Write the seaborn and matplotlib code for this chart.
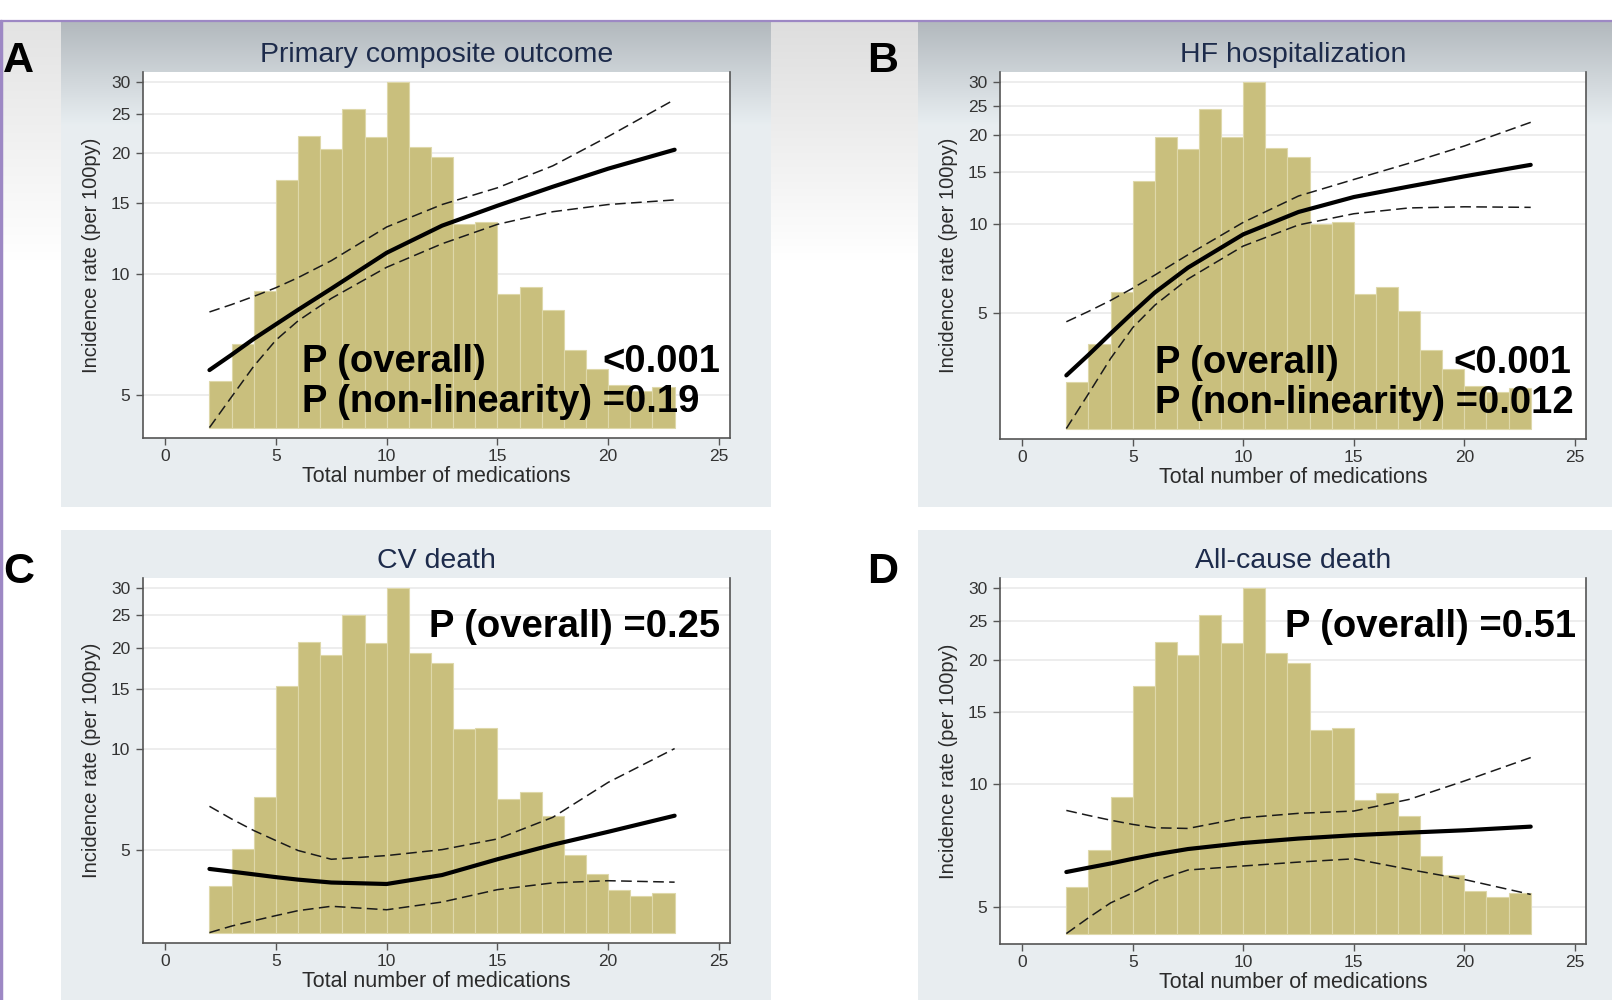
import numpy as np
import matplotlib
matplotlib.use("Agg")
import matplotlib.pyplot as plt
import matplotlib.ticker as mticker
import seaborn as sns

# share of patients by total number of medications (%), one bar per count 2..22
meds = list(range(2, 23))
pct_patients = [1.28, 2.30, 3.74, 6.78, 7.99, 7.65, 8.73, 7.97, 9.47, 7.69, 7.42,
                5.59, 5.64, 3.67, 3.86, 3.22, 2.14, 1.62, 1.16, 1.01, 1.10]

# spline estimates, incidence rate per 100 patient-years
x_fit = [2, 3, 4, 5, 6, 7.5, 10, 12.5, 15, 17.5, 20, 23]

primary_est = [5.77, 6.3, 6.9, 7.5, 8.15, 9.2, 11.3, 13.2, 14.8, 16.5, 18.3, 20.4]
primary_upper = [8.05, 8.4, 8.8, 9.25, 9.8, 10.8, 13.1, 14.9, 16.4, 18.6, 22.0, 27.2]
primary_lower = [4.15, 4.95, 5.9, 6.85, 7.65, 8.7, 10.4, 11.9, 13.3, 14.3, 14.9, 15.3]

hf_est = [3.07, 3.6, 4.25, 5.0, 5.85, 7.1, 9.2, 10.95, 12.3, 13.35, 14.45, 15.8]
hf_upper = [4.66, 5.05, 5.5, 6.05, 6.7, 7.85, 10.1, 12.4, 14.1, 16.0, 18.3, 22.0]
hf_lower = [2.03, 2.66, 3.5, 4.45, 5.3, 6.5, 8.4, 9.9, 10.8, 11.3, 11.4, 11.35]

cv_est = [4.38, 4.3, 4.22, 4.14, 4.07, 3.99, 3.95, 4.2, 4.68, 5.17, 5.65, 6.31]
cv_upper = [6.73, 6.17, 5.7, 5.32, 4.97, 4.68, 4.8, 5.0, 5.38, 6.24, 7.93, 10.0]
cv_lower = [2.83, 2.96, 3.07, 3.18, 3.29, 3.39, 3.31, 3.49, 3.8, 3.98, 4.04, 4.0]

acd_est = [6.08, 6.23, 6.38, 6.55, 6.71, 6.92, 7.16, 7.34, 7.48, 7.59, 7.69, 7.85]
acd_upper = [8.6, 8.36, 8.14, 7.95, 7.8, 7.77, 8.25, 8.46, 8.57, 9.15, 10.15, 11.58]
acd_lower = [4.3, 4.7, 5.11, 5.41, 5.78, 6.15, 6.29, 6.43, 6.55, 6.17, 5.83, 5.36]

y_ticks = [5, 10, 15, 20, 25, 30]
x_ticks = [0, 5, 10, 15, 20, 25]

titles = ["Primary composite outcome", "HF hospitalization", "CV death", "All-cause death"]
letters = ["A", "B", "C", "D"]
p_texts = [
    [(6.2, 0.180, "P (overall)", "left"), (25.05, 0.180, "<0.001", "right"),
     (6.2, 0.071, "P (non-linearity) =0.19", "left")],
    [(6.0, 0.180, "P (overall)", "left"), (24.85, 0.180, "<0.001", "right"),
     (6.0, 0.071, "P (non-linearity) =0.012", "left")],
    [(25.05, 0.838, "P (overall) =0.25", "right")],
    [(25.05, 0.840, "P (overall) =0.51", "right")],
]

BAR = "#c9bf7d"
BAR_EDGE = "#ded8aa"
PANEL = (0.910, 0.933, 0.945)
PANEL_TOP = (0.70, 0.725, 0.745)
PURPLE = "#9d88c4"

sns.set_theme(style="white")
plt.rcParams["font.family"] = ["Liberation Sans", "DejaVu Sans"]

W, H = 1612, 1000
fig = plt.figure(figsize=(16.12, 10), dpi=100)
fig.patch.set_facecolor("white")

# background layer in pixel coordinates
bg = fig.add_axes([0, 0, 1, 1], zorder=-10)
bg.axis("off")


def fade(x0, x1, y0, y1, c_top, c_bot, y_end):
    ys = np.arange(y0, y1)
    t = np.clip((ys - y0) / (y_end - y0), 0, 1)[:, None]
    rgb = (1 - t) * np.array(c_top) + t * np.array(c_bot)
    bg.imshow(rgb[:, None, :], extent=(x0, x1, y1, y0), aspect="auto",
              interpolation="bilinear")


fade(2, 61, 22, 507, (0.89, 0.89, 0.89), (1, 1, 1), 260)
fade(771, 918, 22, 507, (0.87, 0.87, 0.87), (1, 1, 1), 260)
fade(61, 771, 22, 507, PANEL_TOP, PANEL, 125)
fade(918, W, 22, 507, PANEL_TOP, PANEL, 125)
fade(61, 771, 530, H, PANEL, PANEL, 600)
fade(918, W, 530, H, PANEL, PANEL, 600)
bg.plot([0, W], [21, 21], color=PURPLE, lw=1.6)
bg.plot([1, 1], [21, H], color=PURPLE, lw=2.5)
bg.set_xlim(0, W)
bg.set_ylim(H, 0)

# plot areas in pixels: left, right, top, bottom
boxes = [(143, 730, 72, 438), (1000, 1586, 72, 439),
         (143, 730, 578, 943), (1000, 1586, 578, 944)]
letter_pos = [(3, 41), (867, 41), (3, 552), (867, 552)]
series = [(primary_est, primary_upper, primary_lower),
          (hf_est, hf_upper, hf_lower),
          (cv_est, cv_upper, cv_lower),
          (acd_est, acd_upper, acd_lower)]

PAD = 0.0302  # share of the data span left free below and above

for i in range(4):
    l, r, t, b = boxes[i]
    est, upper, lower = series[i]

    ax = fig.add_axes([l / W, 1 - b / H, (r - l) / W, (b - t) / H])
    axh = ax.twinx()
    axl = ax.twinx()

    lo_v, hi_v = min(lower), max(y_ticks)
    span = np.log(hi_v) - np.log(lo_v)
    ylim = (np.exp(np.log(lo_v) - PAD * span), np.exp(np.log(hi_v) + PAD * span))

    # histogram of medication counts on its own hidden axis
    sns.histplot(x=meds, weights=pct_patients, binwidth=1, binrange=(2, 23),
                 color=BAR, alpha=1, edgecolor=BAR_EDGE, linewidth=0.8, ax=axh)
    hmax = max(pct_patients)
    axh.set_ylim(-PAD * hmax, hmax * (1 + PAD))
    axh.axis("off")

    # spline with confidence limits
    axl.set_yscale("log")
    sns.lineplot(x=x_fit, y=est, color="black", linewidth=3.0, ax=axl)
    for band in (upper, lower):
        sns.lineplot(x=x_fit, y=band, color="#1a1a1a", linewidth=1.1,
                     linestyle=(0, (7, 3.5)), ax=axl)
    axl.set_ylim(ylim)
    axl.axis("off")

    ax.set_yscale("log")
    ax.set_ylim(ylim)
    ax.set_yticks(y_ticks)
    ax.set_yticklabels([str(v) for v in y_ticks])
    ax.yaxis.set_minor_locator(mticker.NullLocator())
    ax.set_xticks(x_ticks)
    ax.set_xlim(-1, 25.5)
    ax.set_facecolor("white")
    ax.grid(axis="y", color="#ececec", lw=1.3)
    ax.grid(axis="x", visible=False)
    ax.spines["top"].set_visible(False)
    for s in ("left", "bottom", "right"):
        ax.spines[s].set_color("#555555")
        ax.spines[s].set_linewidth(1.2)
    ax.tick_params(axis="y", which="both", left=True, right=False, length=5,
                   width=1, color="#555555", pad=4, labelsize=12.5, labelcolor="#333333")
    ax.tick_params(axis="x", bottom=True, length=5, width=1, color="#555555",
                   pad=3, labelsize=12.5, labelcolor="#333333")

    ax.set_title(titles[i], fontsize=20.5, color="#1d2b4b", pad=7)
    ax.set_ylabel("Incidence rate (per 100py)", fontsize=14.5, color="#2b2b2b")
    ax.yaxis.set_label_coords(-0.072, 0.5)
    ax.set_xlabel("Total number of medications", fontsize=15.5, color="#2b2b2b")
    ax.xaxis.set_label_coords(0.5, -0.077)

    trans = ax.get_xaxis_transform()
    for xp, yp, txt, ha in p_texts[i]:
        axl.text(xp, yp, txt, transform=trans, ha=ha, va="baseline",
                 fontsize=27.5, fontweight="bold", color="black")

    lx, ly = letter_pos[i]
    fig.text(lx / W, 1 - ly / H, letters[i], ha="left", va="top",
             fontsize=31, fontweight="bold", color="black")

fig.savefig("out.png", dpi=100)
